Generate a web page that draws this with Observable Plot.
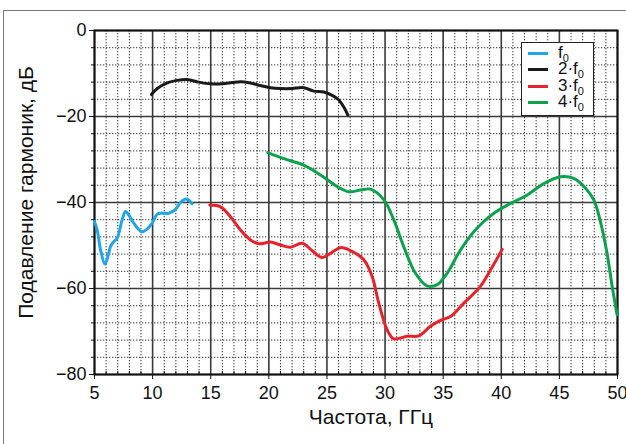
<!DOCTYPE html>
<html>
<head>
<meta charset="utf-8">
<script src="https://cdn.jsdelivr.net/npm/d3@7"></script>
<script src="https://cdn.jsdelivr.net/npm/@observablehq/plot@0.6"></script>
<style>
  html, body { margin: 0; padding: 0; background: #fff; }
  #wrap { position: relative; width: 626px; height: 444px; overflow: hidden; font-family: "Liberation Sans", Arial, Helvetica, sans-serif; }
  #chart svg { overflow: visible; }
  #outer { position: absolute; left: 3px; top: 10px; width: 640px; height: 460px; border-top: 1.5px solid #777; border-left: 1.5px solid #777; box-sizing: border-box; pointer-events: none; }
  #legend { position: absolute; left: 521px; top: 42px; width: 73px; height: 74px; box-sizing: border-box; border: 1.2px solid #222; background: #fff; padding-top: 2px; }
  .row { display: flex; align-items: center; height: 16.5px; }
  .sw { width: 20px; height: 3px; margin-left: 6px; margin-right: 10px; flex: none; }
  .lab { font-size: 17px; line-height: 15px; color: #111; white-space: nowrap; }
  .lab .s { font-size: 11px; position: relative; top: 4px; }
</style>
</head>
<body>
<div id="wrap">
  <div id="chart"></div>
  <div id="outer"></div>
  <div id="legend"></div>
</div>
<script>
// ---- data ----
const xMajorTicks = [5, 10, 15, 20, 25, 30, 35, 40, 45, 50];
const xMinorTicks = [5,6,7,8,9,10,11,12,13,14,15,16,17,18,19,20,21,22,23,24,25,26,27,28,29,30,31,32,33,34,35,36,37,38,39,40,41,42,43,44,45,46,47,48,49,50];
const yMajorTicks = [0, -20, -40, -60, -80];
const yMinorTicks = [0,-4,-8,-12,-16,-20,-24,-28,-32,-36,-40,-44,-48,-52,-56,-60,-64,-68,-72,-76,-80];

const seriesNames = ["f0", "2·f0", "3·f0", "4·f0"];
const seriesColors = ["#1ea6e6", "#1a1a1a", "#e8222a", "#0ca24c"];

const f0 = [
  [5.0,-44.4],[5.23,-46.4],[5.52,-51.0],[5.89,-54.3],[6.15,-52.6],[6.38,-50.2],[6.66,-49.1],
  [6.95,-48.3],[7.38,-44.0],[7.67,-42.1],[7.95,-42.9],[8.38,-44.8],[9.05,-46.8],[9.53,-46.2],
  [9.96,-44.8],[10.4,-42.7],[10.82,-42.5],[11.4,-42.5],[11.97,-41.6],[12.4,-40.0],[12.83,-39.2],
  [13.1,-39.4],[13.4,-40.3]
];
const f2 = [
  [9.9,-14.9],[10.4,-13.5],[11.26,-12.2],[12.1,-11.6],[12.98,-11.4],[13.97,-12.0],[14.98,-12.4],
  [15.99,-12.4],[16.85,-12.1],[17.56,-11.9],[18.42,-12.2],[19.28,-12.8],[20.14,-13.3],[21.0,-13.5],
  [22.0,-13.5],[23.0,-13.3],[23.87,-14.1],[24.73,-14.3],[25.45,-15.1],[26.0,-16.1],[26.45,-17.8],
  [26.8,-19.7]
];
const f3 = [
  [14.92,-40.6],[15.84,-41.0],[16.7,-43.3],[17.56,-46.4],[18.42,-48.7],[19.14,-49.6],[20.14,-49.2],
  [21.0,-49.9],[21.86,-50.4],[22.87,-49.5],[23.73,-51.2],[24.59,-52.8],[25.31,-51.8],[26.17,-50.5],
  [27.03,-51.2],[28.17,-53.3],[28.89,-57.2],[29.46,-63.4],[30.18,-69.6],[30.75,-71.7],[31.9,-71.1],
  [32.9,-71.0],[33.9,-68.8],[34.77,-67.4],[35.63,-66.5],[36.78,-63.4],[38.2,-59.5],[39.07,-55.7],
  [40.08,-50.9]
];
const f4 = [
  [19.91,-28.4],[21.3,-29.8],[23.0,-31.3],[24.45,-33.6],[25.88,-36.3],[26.88,-37.5],[27.89,-37.1],
  [28.75,-36.9],[29.9,-39.4],[30.76,-44.1],[31.6,-50.2],[32.6,-56.4],[33.62,-59.4],[34.49,-59.1],
  [35.35,-56.4],[36.5,-51.0],[37.9,-46.0],[39.36,-42.5],[40.8,-40.2],[42.2,-38.3],[43.66,-35.6],
  [45.1,-34.0],[46.24,-34.4],[47.25,-36.7],[47.96,-39.4],[48.5,-44.1],[49.1,-51.8],[49.54,-59.5],
  [49.96,-66.1]
];

const xLabel = "Частота, ГГц";
const yLabel = "Подавление гармоник, дБ";

// ---- build ----
const allSeries = [f0, f2, f3, f4];
const table = allSeries.flatMap((s, i) => s.map(([x, y]) => ({x, y, s: seriesNames[i]})));

const minorX = xMinorTicks.filter(d => !xMajorTicks.includes(d));
const minorY = yMinorTicks.filter(d => !yMajorTicks.includes(d));

const chart = Plot.plot({
  width: 626,
  height: 444,
  marginLeft: 94,
  marginRight: 9,
  marginTop: 30,
  marginBottom: 70,
  style: {fontFamily: '"Liberation Sans", Arial, Helvetica, sans-serif', fontSize: "18px", color: "#111", background: "transparent", overflow: "visible"},
  x: {domain: [5, 50]},
  y: {domain: [-80, 0]},
  color: {domain: seriesNames, range: seriesColors},
  marks: [
    Plot.ruleX(minorX, {stroke: "#333", strokeWidth: 1, strokeDasharray: "1.3,1.7"}),
    Plot.ruleY(minorY, {stroke: "#333", strokeWidth: 1, strokeDasharray: "1.3,1.7"}),
    Plot.ruleX(xMajorTicks, {stroke: "#3a3a3a", strokeWidth: 1.6}),
    Plot.ruleY(yMajorTicks, {stroke: "#3a3a3a", strokeWidth: 1.6}),
    Plot.frame({stroke: "#111", strokeWidth: 2}),
    Plot.axisX({ticks: xMajorTicks, tickSize: 5, tickPadding: 7, label: null, fontSize: 18}),
    Plot.axisX({ticks: minorX, tickSize: -3, text: null, label: null}),
    Plot.axisY({ticks: yMajorTicks, tickSize: 5, tickPadding: 3, label: null, fontSize: 18}),
    Plot.axisY({ticks: minorY, tickSize: 3, text: null, label: null}),
    Plot.line(table, {x: "x", y: "y", z: "s", stroke: "s", strokeWidth: 3, curve: "catmull-rom"}),
    Plot.text([xLabel], {frameAnchor: "bottom", textAnchor: "middle", dx: 15, dy: 49, fontSize: 21, fill: "#111"}),
    Plot.text([yLabel], {frameAnchor: "left", textAnchor: "middle", lineAnchor: "middle", dx: -68, dy: -10, rotate: -90, fontSize: 21, fill: "#111"})
  ]
});
document.getElementById("chart").appendChild(chart);

// legend
const leg = document.getElementById("legend");
seriesNames.forEach((name, i) => {
  const row = document.createElement("div");
  row.className = "row";
  const sw = document.createElement("div");
  sw.className = "sw";
  sw.style.background = seriesColors[i];
  const lab = document.createElement("div");
  lab.className = "lab";
  lab.appendChild(document.createTextNode(name.slice(0, -1)));
  const s = document.createElement("span");
  s.className = "s";
  s.textContent = name.slice(-1);
  lab.appendChild(s);
  row.appendChild(sw);
  row.appendChild(lab);
  leg.appendChild(row);
});
</script>
</body>
</html>
